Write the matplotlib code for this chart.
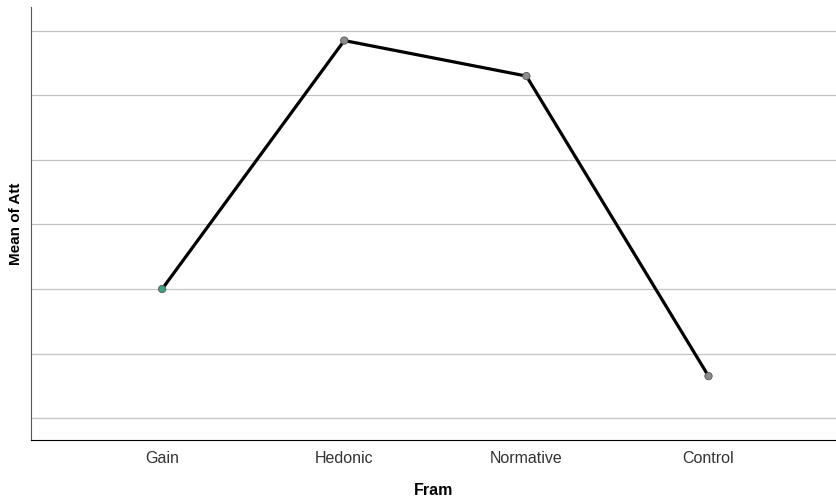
import matplotlib
matplotlib.use("Agg")
import matplotlib.pyplot as plt

categories = ["Gain", "Hedonic", "Normative", "Control"]
means = [2.0, 5.85, 5.30, 0.65]
marker_colors = ["#3fa37f", "#8c8c8c", "#8c8c8c", "#8c8c8c"]
grid_levels = [0, 1, 2, 3, 4, 5, 6]

plt.rcParams['font.family'] = ['Liberation Sans', 'DejaVu Sans']

fig = plt.figure(figsize=(8.36, 4.97), dpi=100)
ax = fig.add_axes([31/836, 1-440/497, 1-31/836, 433/497])

x = list(range(len(categories)))
ax.plot(x, means, color="black", linewidth=2.3, zorder=3)
ax.scatter(x, means, s=28, c=marker_colors, edgecolors="#555555", linewidths=0.6, zorder=4)

ax.set_xlim(-0.72, 3.70)
ax.set_ylim(-0.34, 6.37)
ax.set_yticks(grid_levels)
ax.set_yticklabels([])
ax.tick_params(axis='y', length=0)
ax.set_xticks(x)
ax.set_xticklabels(categories, fontsize=11.5, color="#333333")
ax.tick_params(axis='x', length=0, pad=8)
ax.grid(axis='y', color="#c4c4c4", linewidth=0.9)
ax.set_axisbelow(True)

for side in ["top", "right"]:
    ax.spines[side].set_visible(False)
ax.spines["left"].set_color("#555555")
ax.spines["bottom"].set_color("black")

ax.set_xlabel("Fram", fontsize=11.5, fontweight="bold", labelpad=12)
ax.set_ylabel("Mean of Att", fontsize=11, fontweight="bold", labelpad=2)

fig.savefig("out.png", dpi=100)
